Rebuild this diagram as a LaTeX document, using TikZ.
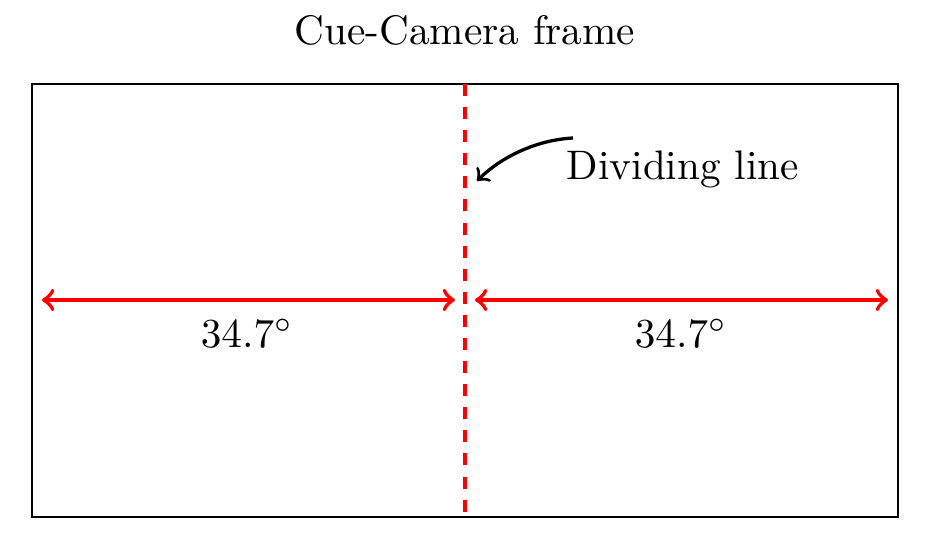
\documentclass[tikz,border=0pt]{standalone}
\begin{document}
\begin{tikzpicture}[x=0.2425pt,y=-0.2425pt,
  redline/.style={red,line width=1pt},
  lbl/.style={inner sep=0pt,font=\normalsize}]
\useasboundingbox (0,0) rectangle (928,543);
\coordinate (tl) at (32,84);
\coordinate (br) at (898,517);
\draw[line width=0.5pt] (tl) rectangle (br);
\coordinate (dtop) at (465,84);
\coordinate (dbot) at (465,517);
\draw[redline,dash pattern=on 2.9pt off 2.7pt] (dtop) -- (dbot);
\coordinate (la) at (42,300);
\coordinate (lb) at (455,300);
\coordinate (ra) at (475,300);
\coordinate (rb) at (888,300);
\draw[redline,<->] (la) -- (lb);
\draw[redline,<->] (ra) -- (rb);
\node[lbl] (t1) at (247,333) {$34.7^\circ$};
\node[lbl] (t2) at (681,333) {$34.7^\circ$};
\node[lbl] (title) at (465,30) {Cue-Camera frame};
\node[lbl,anchor=west] (div) at (566,169) {Dividing line};
\coordinate (cs) at (573,138);
\coordinate (ce) at (477,181);
\draw[line width=0.8pt,->] (cs) .. controls (535,140) and (500,158) .. (ce);
\end{tikzpicture}
\end{document}
